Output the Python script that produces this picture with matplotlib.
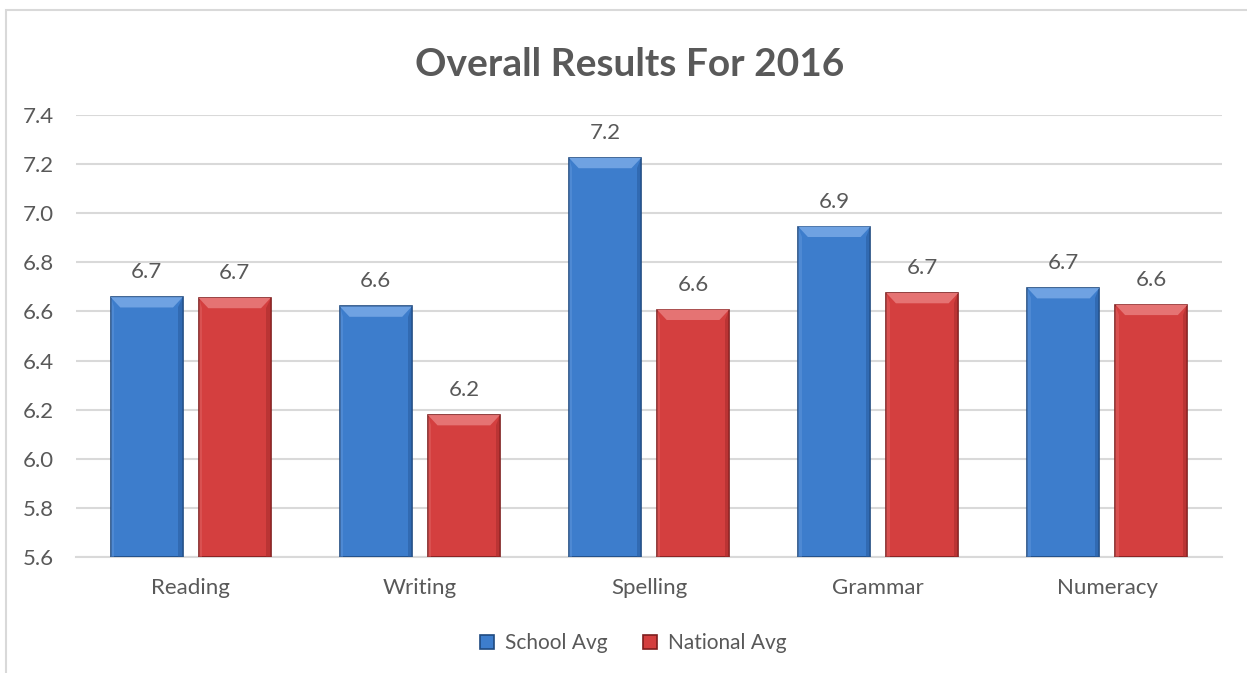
import numpy as np
import matplotlib
matplotlib.use("Agg")
import matplotlib.pyplot as plt
from matplotlib.patches import Polygon, Rectangle

plt.rcParams['font.family'] = ['Lato', 'DejaVu Sans']

# dados do gráfico
categorias = ["Reading", "Writing", "Spelling", "Grammar", "Numeracy"]
media_escola = [6.658, 6.62, 7.225, 6.945, 6.695]
media_nacional = [6.655, 6.178, 6.607, 6.675, 6.627]
series = ["School Avg", "National Avg"]

cor_texto = "#595959"
cor_grade = "#D9D9D9"
cores = {
    "School Avg": ("#3D7DCC", "#6FA2E2", "#285C9E", "#1F4A80"),
    "National Avg": ("#D43F3F", "#E57373", "#A52B2B", "#7E1E1E"),
}

fig = plt.figure(figsize=(12.47, 6.73), dpi=100)
ax = fig.add_axes([0.061, 0.1724, 0.919, 0.6568])

x = np.arange(len(categorias))
largura = 0.314
desloc = 0.192


def chanfro(ax, barras, clara, escura):
    # efeito de relevo: topo claro, lateral direita escura
    for b in barras:
        x0, w, h = b.get_x(), b.get_width(), b.get_height()
        y0 = b.get_y()
        x1, y1 = x0 + w, y0 + h
        dx, dy = 0.042, 0.042
        topo = Polygon([(x0, y1), (x1, y1), (x1 - dx, y1 - dy), (x0 + dx, y1 - dy)],
                       closed=True, facecolor=clara, edgecolor="none", zorder=3.1)
        dir_ = Polygon([(x1, y1), (x1, y0), (x1 - dx * 0.45, y0), (x1 - dx * 0.45, y1 - dy)],
                       closed=True, facecolor=escura, edgecolor="none", alpha=0.55, zorder=3.1)
        esq = Polygon([(x0, y1), (x0, y0), (x0 + dx * 0.35, y0), (x0 + dx * 0.35, y1 - dy)],
                      closed=True, facecolor=clara, edgecolor="none", alpha=0.35, zorder=3.1)
        for p in (topo, dir_, esq):
            ax.add_patch(p)


for nome, valores, sinal in [("School Avg", media_escola, -1), ("National Avg", media_nacional, 1)]:
    face, clara, escura, borda = cores[nome]
    alturas = np.array(valores) - 5.6
    barras = ax.bar(x + sinal * desloc, alturas, largura, bottom=5.6, color=face,
                    edgecolor=borda, linewidth=1.2, zorder=3, label=nome)
    chanfro(ax, barras, clara, escura)
    for xi, v in zip(x + sinal * desloc, valores):
        ax.annotate(f"{v:.1f}", (xi, v), xytext=(0, 18), textcoords="offset points",
                    ha="center", va="center", fontsize=16, color=cor_texto, zorder=5)

ax.set_xlim(-0.5, len(categorias) - 0.5)
ax.set_ylim(5.6, 7.4)
ax.set_yticks(np.arange(5.6, 7.41, 0.2))
ax.set_yticklabels([f"{t:.1f}" for t in np.arange(5.6, 7.41, 0.2)])
ax.set_xticks(x)
ax.set_xticklabels(categorias)
ax.tick_params(axis="both", length=0, labelsize=16, labelcolor=cor_texto)
ax.tick_params(axis="y", pad=16)
ax.tick_params(axis="x", pad=15)
ax.yaxis.grid(True, color=cor_grade, linewidth=1.5, zorder=0)
ax.set_axisbelow(True)
for lado in ["left", "right", "top"]:
    ax.spines[lado].set_visible(False)
ax.spines["bottom"].set_color(cor_grade)
ax.spines["bottom"].set_linewidth(1.5)

fig.suptitle("Overall Results For 2016", x=0.505, y=0.93, fontsize=28,
             fontweight="bold", color=cor_texto)

leg = ax.legend(loc="upper center", bbox_to_anchor=(0.486, -0.13), ncol=2, frameon=False,
                fontsize=15, labelcolor=cor_texto, handlelength=0.7, handleheight=0.7,
                handletextpad=0.5, columnspacing=1.7)

# moldura do gráfico
fig.patches.append(Rectangle((6 / 1247, -0.02), 1.1, 1 - 10 / 673 + 0.02,
                             transform=fig.transFigure, fill=False,
                             edgecolor="#D9D9D9", linewidth=1.5))

fig.savefig("out.png", dpi=100)
